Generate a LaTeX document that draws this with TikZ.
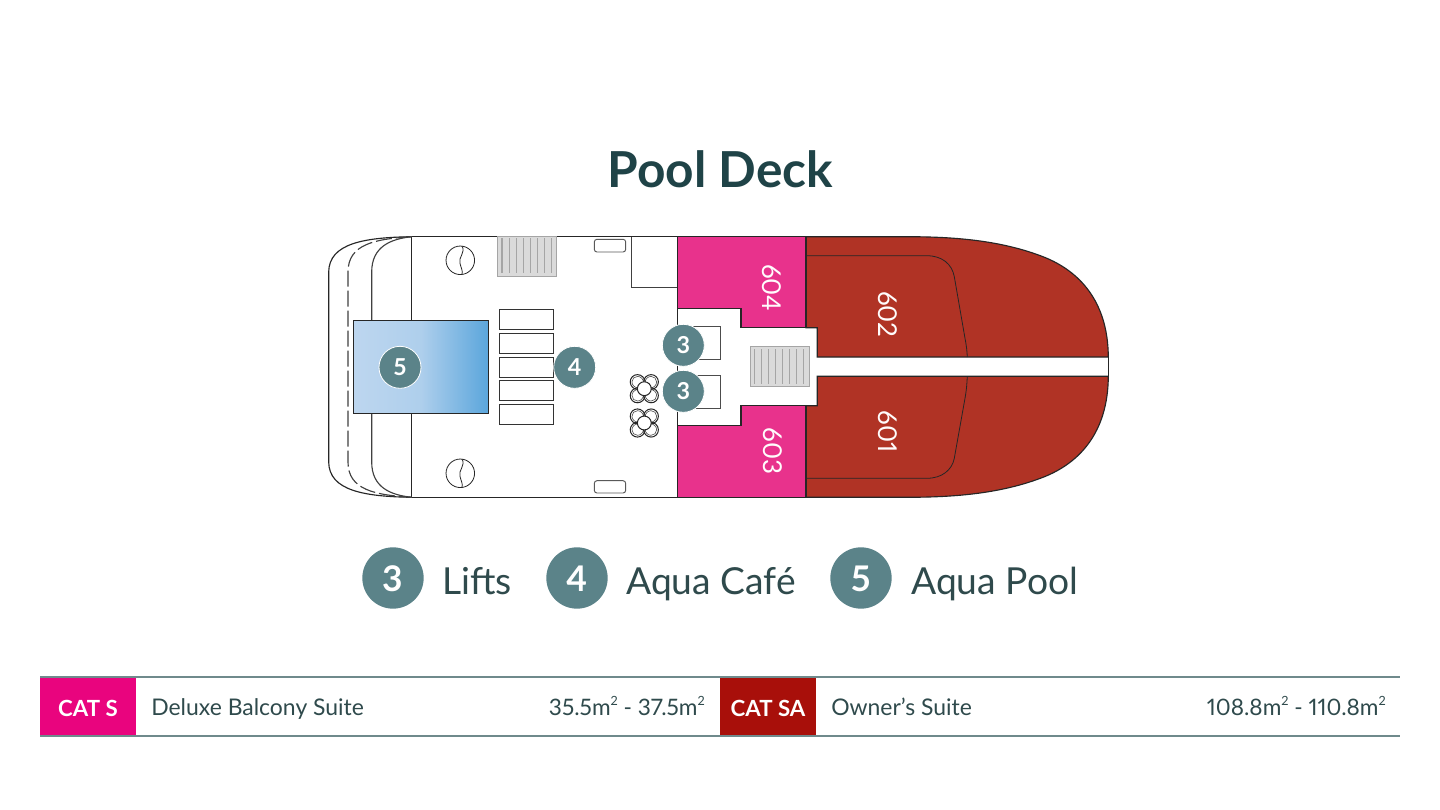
\documentclass[tikz,border=0pt]{standalone}
\usepackage{fontspec}
\setmainfont{Lato}[Numbers=Proportional]
\usetikzlibrary{shapes.geometric}
\newcommand{\smsq}{\raisebox{0.42em}{\fontsize{9.5}{10}\selectfont 2}}
\newcommand{\bdg}[1]{\raisebox{-0.37em}[0pt][0pt]{#1}}
\definecolor{deckpink}{HTML}{E8328C}
\definecolor{deckred}{HTML}{B03325}
\definecolor{catpink}{HTML}{E9047E}
\definecolor{catred}{HTML}{A80F0A}
\definecolor{badge}{HTML}{5B8389}
\definecolor{ink}{HTML}{1F4347}
\definecolor{txt}{HTML}{2F4A4C}
\definecolor{rulec}{HTML}{6F8A8C}
\definecolor{gratef}{HTML}{DADADA}
\definecolor{grated}{HTML}{A5A5A5}
\definecolor{pooll}{HTML}{BDD6EF}
\definecolor{poold}{HTML}{5BA6DC}
\tikzset{
  x=0.75pt,y=-0.75pt,
  hull/.style={line width=0.85pt,draw=black!85},
  thin line/.style={line width=0.6pt,draw=black!85},
  lounger/.style={draw=black!80,line width=0.6pt,fill=white},
  slat/.style={draw=grated,line width=1pt},
  grate/.style={fill=gratef,draw=grated,line width=0.7pt},
  badge sm/.style={circle,fill=badge,draw=white,line width=0.6pt,minimum size=31.5pt,inner sep=0pt,text=white,font=\bfseries\fontsize{17.5}{20}\selectfont},
  badge lg/.style={circle,fill=badge,minimum size=46pt,inner sep=0pt,text=white,font=\bfseries\fontsize{26.5}{30}\selectfont},
  legend/.style={anchor=base west,inner sep=0pt,text=txt,font=\fontsize{27.9}{30}\selectfont},
  cabin/.style={text=white!95!pink,rotate=-90,inner sep=0pt,font=\fontsize{19.5}{24}\selectfont},
  row/.style={anchor=base west,inner sep=0pt,text=txt,font=\fontsize{17.2}{20}\selectfont},
  rowr/.style={anchor=base east,inner sep=0pt,text=txt,font=\fontsize{17}{20}\selectfont},
  cat/.style={inner sep=0pt,text=white,font=\bfseries\fontsize{16.7}{20}\selectfont}
}
\begin{document}
\begin{tikzpicture}
\useasboundingbox (0,0) rectangle (1440,810);
\fill[white] (0,0) rectangle (1440,810);
% title
\node[anchor=base,inner sep=0pt,text=ink,font=\bfseries\fontsize{37.2}{40}\selectfont] (title) at (720.5,187) {Pool Deck};
% red suites
\path[fill=deckred,hull] (806,236.7) -- (906,236.7) .. controls (950,236.7) and (1000,239.5) .. (1045,257.5) .. controls (1078,271) and (1108,300) .. (1108.3,357) -- (817.3,357) -- (817.3,327.7) -- (806,327.7) -- cycle;
\path[fill=deckred,hull] (806,497.3) -- (906,497.3) .. controls (950,497.3) and (1000,494.5) .. (1045,476.5) .. controls (1078,463) and (1108,434) .. (1108.3,376.3) -- (817.3,376.3) -- (817.3,405.7) -- (806,405.7) -- cycle;
\draw[thin line] (1108.3,357) -- (1108.3,376.3);
\draw[thin line] (806,255.7) -- (926.7,255.7) .. controls (942,255.7) and (952,264) .. (954.3,276.7) -- (965,338.3) .. controls (966.5,346) and (967,351) .. (967.3,357);
\draw[thin line] (806,478.3) -- (926.7,478.3) .. controls (942,478.3) and (952,470) .. (954.3,458.3) -- (965,398.3) .. controls (966.5,390) and (967,383) .. (967.3,376.3);
% pink suites
\path[fill=deckpink,hull] (677.3,236.7) -- (806,236.7) -- (806,327.7) -- (741,327.7) -- (741,308.7) -- (677.3,308.7) -- cycle;
\path[fill=deckpink,hull] (677.3,497.3) -- (806,497.3) -- (806,405.7) -- (741,405.7) -- (741,425.3) -- (677.3,425.3) -- cycle;
% deck outline
\draw[hull] (411.7,236.7) -- (677.3,236.7);
\draw[hull] (411.7,497.3) -- (677.3,497.3);
\draw[hull] (677.3,236.7) -- (677.3,497.3);
\draw[hull] (411.7,236.7) -- (411.7,497.3);
\draw[hull] (411.7,236.7) .. controls (365,237.5) and (329,243) .. (328.7,272) -- (328.7,462) .. controls (329,491) and (365,496.5) .. (411.7,497.3);
\draw[hull,draw=black!75,dash pattern=on 12pt off 3pt] (411.7,236.7) .. controls (375,239) and (348,244) .. (348,272) -- (348,462) .. controls (348,490) and (375,495) .. (411.7,497.3);
\draw[hull,draw=black!75] (411.7,236.7) .. controls (390,239) and (371.7,247) .. (371.7,272) -- (371.7,462) .. controls (371.7,487) and (390,495) .. (411.7,497.3);
% pool
\path[draw=black!85,line width=0.8pt,left color=pooll,right color=poold,middle color=pooll!85!poold] (353.3,320.7) rectangle (488.3,413.3);
% compass
\foreach \n/\cy in {a/260.3,b/473.3}{
  \draw[thin line] (460.3,\cy) circle [radius=10.7pt];
  \draw[thin line] (462,\cy-14.2) .. controls (466,\cy-8) and (458,\cy-3) .. (460,\cy+3) .. controls (461,\cy+8) and (463,\cy+10) .. (462,\cy+14.2);
}
% grates
\path[grate] (497.7,236.7) rectangle (556.7,276.7);
\foreach \sx in {502,509.3,516.3,523.3,530.3,537.3,544.3,551.7} \draw[slat] (\sx,238) -- (\sx,273);
\path[grate] (750.3,346.7) rectangle (809.3,386.3);
\foreach \sx in {754.7,761.7,768.7,775.7,782.7,789.7,796.7,803.7} \draw[slat] (\sx,349.3) -- (\sx,384.3);
% small rounded rects
\draw[draw=black!65,line width=0.7pt,rounded corners=2pt] (594.3,239.3) rectangle (625.7,252);
\draw[draw=black!65,line width=0.7pt,rounded corners=2pt] (594.3,480.7) rectangle (625.7,493);
% square
\draw[draw=black!75,line width=0.7pt] (677.3,287.3) -- (631.7,287.3) -- (631.7,237);
% loungers
\foreach \ly in {309.3,333.3,357.3,380.3,404.3} \draw[lounger] (499.3,\ly) rectangle (553.3,\ly+20);
% lift boxes
\draw[draw=black!70,line width=0.7pt] (685,326) -- (720,326) -- (720,359) -- (685,359);
\draw[draw=black!70,line width=0.7pt] (685,375.7) -- (720,375.7) -- (720,408.3) -- (685,408.3);
% fans
\foreach \fy in {388.7,423}{
  \begin{scope}[shift={(644.3,\fy)}]
    \foreach \ang in {45,135,225,315}{
      \draw[line width=0.75pt,black!85,rotate=\ang] (7pt,0) ellipse [x radius=5.7pt,y radius=5.5pt];
      \draw[line width=0.45pt,black!70,rotate=\ang] (7pt,0) ellipse [x radius=4.4pt,y radius=4.2pt];
    }
    \fill[white] (0,0) circle [radius=5.2pt];
    \draw[line width=0.75pt,black!85] (0,0) circle [radius=5.2pt];
  \end{scope}
}
% cabin numbers
\node[cabin] (c604) at (771.5,287.7) {604};
\node[cabin] (c603) at (773,451) {603};
\node[cabin] (c602) at (887.5,314.3) {602};
\node[cabin] (c601) at (887.5,431.7) {601};
% badges on plan
\node[badge sm] (p5) at (400,367.3) {\bdg{5}};
\node[badge sm] (p4) at (574.7,367.3) {\bdg{4}};
\node[badge sm] (p3a) at (683.3,345.3) {\bdg{3}};
\node[badge sm] (p3b) at (683.3,391.3) {\bdg{3}};
% legend
\node[badge lg] (l3) at (393,578) {\bdg{3}};
\node[legend] (lt3) at (442,594) {Lifts};
\node[badge lg] (l4) at (577,578) {\bdg{4}};
\node[legend] (lt4) at (626,594) {Aqua Café};
\node[badge lg] (l5) at (861,578) {\bdg{5}};
\node[legend] (lt5) at (911,594) {Aqua Pool};
% table
\fill[catpink] (40,677) rectangle (136,736);
\fill[catred] (720,677) rectangle (816,736);
\draw[rulec,line width=0.9pt] (40,677) -- (1400,677);
\draw[rulec,line width=0.9pt] (40,736) -- (1400,736);
\node[cat] (cs) at (88,708) {CAT S};
\node[cat] (csa) at (768,708) {CAT SA};
\node[row] (r1) at (151,715.5) {Deluxe Balcony Suite};
\node[rowr] (r2) at (705,715.5) {35.5m\smsq{} - 37.5m\smsq};
\node[row] (r3) at (831,715.5) {Owner’s Suite};
\node[rowr] (r4) at (1386,715.5) {108.8m\smsq{} - 110.8m\smsq};
\end{tikzpicture}
\end{document}
